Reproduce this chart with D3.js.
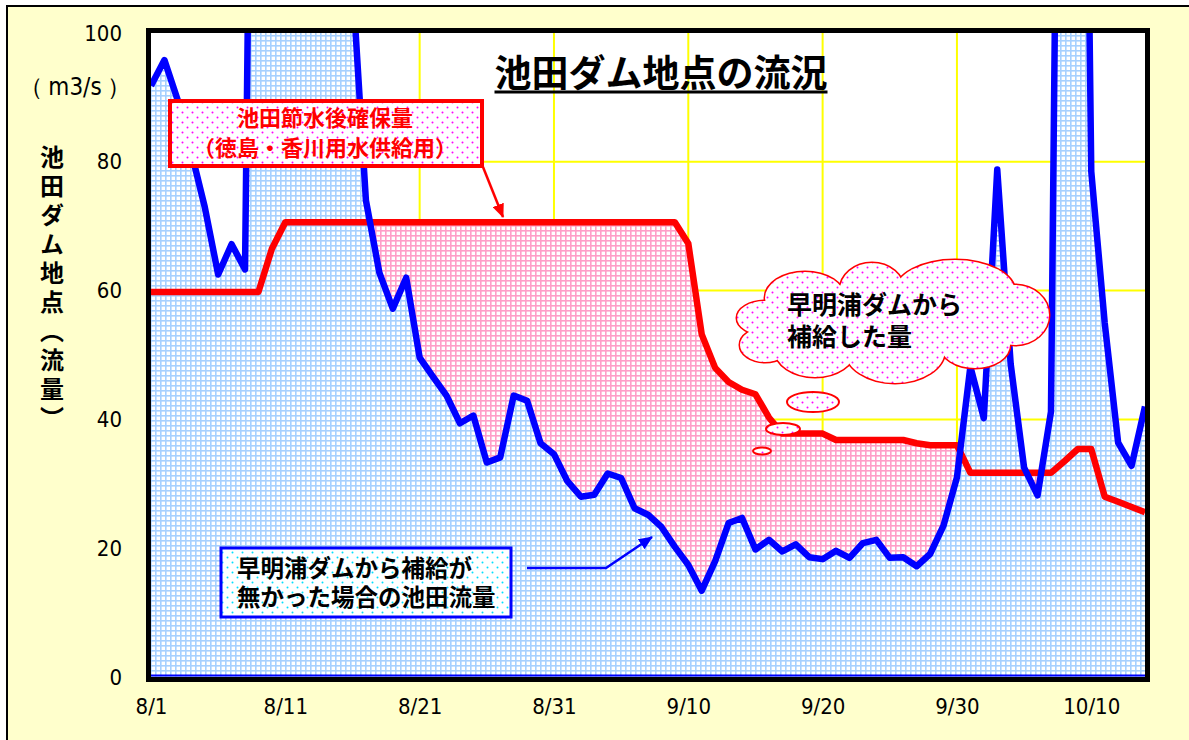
<!DOCTYPE html>
<html lang="ja">
<head>
<meta charset="utf-8" />
<title>池田ダム地点の流況</title>
<style>
  body { margin: 0; background: #fff; }
  svg { display: block; }
  .jp { font-family: 'Noto Sans CJK JP', sans-serif; font-weight: 700; }
  .num text, text.num { font-family: 'Liberation Sans Narrow', 'DejaVu Sans Condensed', sans-serif; font-size: 22px; fill: #000; }
</style>
</head>
<body>
<svg id="chart" width="1189" height="740"></svg>
<script src="https://d3js.org/d3.v7.min.js"></script>
<script>
// ---- data (one value per day, 8/1 .. 10/14) ----
// flow at Ikeda if Sameura dam had not supplied (m3/s); values > 100 run off the chart
const flowNoSupply = [
  91.8, 95.8, 89.5, 81.5, 73, 62.5, 67.2, 63.3, 250, 250,
  250, 250, 250, 250, 250, 108, 74, 62.8, 57.2, 62,
  49.6, 46.6, 43.7, 39.4, 40.6, 33.3, 34.1, 43.7, 42.9, 36.3,
  34.6, 30.4, 28.0, 28.3, 31.6, 30.9, 26.2, 25.2, 23.3, 20.2,
  17.4, 13.4, 18, 23.9, 24.7, 19.8, 21.3, 19.5, 20.6, 18.6,
  18.3, 19.6, 18.5, 20.8, 21.3, 18.5, 18.6, 17.2, 19.1, 23.5,
  31, 48.2, 40.2, 78.8, 48.6, 32.5, 28.2, 41.2, 250, 250,
  78.5, 55, 36.4, 32.8, 42
];
// flow secured at Ikeda after water saving (m3/s)
const securedFlow = [
  59.8, 59.8, 59.8, 59.8, 59.8, 59.8, 59.8, 59.8, 59.8, 66.5,
  70.6, 70.6, 70.6, 70.6, 70.6, 70.6, 70.6, 70.6, 70.6, 70.6,
  70.6, 70.6, 70.6, 70.6, 70.6, 70.6, 70.6, 70.6, 70.6, 70.6,
  70.6, 70.6, 70.6, 70.6, 70.6, 70.6, 70.6, 70.6, 70.6, 70.6,
  67.3, 53.2, 48, 45.8, 44.6, 43.9, 40.3, 37.8, 37.8, 37.8,
  37.8, 36.8, 36.8, 36.8, 36.8, 36.8, 36.8, 36.3, 36.0, 36.0,
  36.0, 31.7, 31.7, 31.7, 31.7, 31.7, 31.7, 31.7, 33.5, 35.4,
  35.4, 28.0, 27.2, 26.4, 25.6
];
const xTickDays = [0, 10, 20, 30, 40, 50, 60, 70];
const xTickLabels = ["8/1", "8/11", "8/21", "8/31", "9/10", "9/20", "9/30", "10/10"];
const yTicks = [0, 20, 40, 60, 80, 100];
const yGrid = [20, 40, 60, 80];

// ---- layout ----
const plot = { left: 151, right: 1145, top: 33, bottom: 677 };
const svg = d3.select("#chart");
const defs = svg.append("defs");

const x = d3.scaleLinear().domain([0, flowNoSupply.length - 1]).range([plot.left, plot.right]);
const y = d3.scaleLinear().domain([0, 100]).range([plot.bottom, plot.top]);

// patterns
function gridPattern(id, color) {
  const p = defs.append("pattern").attr("id", id)
    .attr("patternUnits", "userSpaceOnUse").attr("width", 5).attr("height", 5);
  p.append("rect").attr("width", 5).attr("height", 5).attr("fill", "#fff");
  p.append("rect").attr("width", 5).attr("height", 1.6).attr("fill", color);
  p.append("rect").attr("width", 1.6).attr("height", 5).attr("fill", color);
}
function dotPattern(id, color) {
  const p = defs.append("pattern").attr("id", id)
    .attr("patternUnits", "userSpaceOnUse").attr("width", 10).attr("height", 10);
  p.append("rect").attr("width", 10).attr("height", 10).attr("fill", "#fff");
  p.append("circle").attr("cx", 2.5).attr("cy", 2.5).attr("r", 1).attr("fill", color);
  p.append("circle").attr("cx", 7.5).attr("cy", 7.5).attr("r", 1).attr("fill", color);
}
gridPattern("gridBlue", "#a6d0ff");
gridPattern("gridPink", "#ff9ec8");
dotPattern("dotsMagenta", "#ff00ff");
dotPattern("dotsCyan", "#00e0ff");

defs.append("clipPath").attr("id", "plotClip")
  .append("rect")
  .attr("x", plot.left).attr("y", plot.top)
  .attr("width", plot.right - plot.left).attr("height", plot.bottom - plot.top);

function arrowMarker(id, color) {
  defs.append("marker").attr("id", id)
    .attr("markerUnits", "userSpaceOnUse")
    .attr("markerWidth", 14).attr("markerHeight", 12)
    .attr("refX", 13).attr("refY", 6).attr("orient", "auto")
    .append("path").attr("d", "M0,0 L14,6 L0,12 Z").attr("fill", color);
}
arrowMarker("arrowRed", "#ff0000");
arrowMarker("arrowBlue", "#0000ff");

// ---- backgrounds ----
svg.append("rect").attr("x", 7).attr("y", 6).attr("width", 1200).attr("height", 760)
  .attr("fill", "#ffffcc").attr("stroke", "#000").attr("stroke-width", 2);
svg.append("rect")
  .attr("x", plot.left).attr("y", plot.top)
  .attr("width", plot.right - plot.left).attr("height", plot.bottom - plot.top)
  .attr("fill", "#fff");

// yellow grid
svg.append("g").selectAll("line.h").data(yGrid).join("line")
  .attr("x1", plot.left).attr("x2", plot.right)
  .attr("y1", d => y(d)).attr("y2", d => y(d))
  .attr("stroke", "#ffff00").attr("stroke-width", 2);
svg.append("g").selectAll("line.v").data(xTickDays.slice(1)).join("line")
  .attr("x1", d => x(d)).attr("x2", d => x(d))
  .attr("y1", plot.top).attr("y2", plot.bottom)
  .attr("stroke", "#ffff00").attr("stroke-width", 2);

// ---- areas and lines ----
const area = d3.area().x((d, i) => x(i)).y0(y(0)).y1(d => y(d));
const line = d3.line().x((d, i) => x(i)).y(d => y(d));
const g = svg.append("g").attr("clip-path", "url(#plotClip)");

g.append("path").datum(securedFlow).attr("d", area).attr("fill", "url(#gridPink)");
g.append("path").datum(flowNoSupply).attr("d", area).attr("fill", "url(#gridBlue)");
g.append("line")
  .attr("x1", plot.left).attr("x2", plot.right)
  .attr("y1", y(0) - 1.5).attr("y2", y(0) - 1.5)
  .attr("stroke", "#0000ff").attr("stroke-width", 2);
g.append("path").datum(securedFlow).attr("d", line)
  .attr("fill", "none").attr("stroke", "#ff0000").attr("stroke-width", 6.5)
  .attr("stroke-linejoin", "round");
g.append("path").datum(flowNoSupply).attr("d", line)
  .attr("fill", "none").attr("stroke", "#0000ff").attr("stroke-width", 6.5)
  .attr("stroke-linejoin", "round");

// plot border
svg.append("rect")
  .attr("x", plot.left - 2.5).attr("y", plot.top - 2.5)
  .attr("width", plot.right - plot.left + 5).attr("height", plot.bottom - plot.top + 5)
  .attr("fill", "none").attr("stroke", "#000").attr("stroke-width", 5);

// ---- axes ----
const yAxis = svg.append("g").attr("class", "num")
  .attr("transform", `translate(${plot.left},0)`)
  .call(d3.axisLeft(y).tickValues(yTicks).tickSize(0).tickPadding(29).tickFormat(d3.format("d")));
yAxis.select(".domain").remove();
yAxis.selectAll("text").attr("fill", "#000");

const xAxis = svg.append("g").attr("class", "num")
  .attr("transform", `translate(0,${plot.bottom})`)
  .call(d3.axisBottom(x).tickValues(xTickDays).tickSize(0).tickPadding(21)
    .tickFormat((d, i) => xTickLabels[i]));
xAxis.select(".domain").remove();
xAxis.selectAll("text").attr("fill", "#000");

// y axis titles
const unit = svg.append("text").attr("class", "num")
  .attr("x", 75).attr("y", 95).attr("text-anchor", "middle").style("font-size", "24px");
unit.append("tspan").text("（");
unit.append("tspan").attr("dx", 5).text("m3/s");
unit.append("tspan").attr("dx", 5).text("）");

svg.append("text").attr("class", "jp")
  .attr("x", 52).attr("y", 145)
  .attr("font-size", 24)
  .style("writing-mode", "vertical-rl")
  .style("letter-spacing", "5px")
  .text("池田ダム地点（流量）");

// chart title
const title = svg.append("text").attr("class", "jp")
  .attr("x", 661).attr("y", 87).attr("text-anchor", "middle")
  .attr("font-size", 37).attr("font-weight", 900).attr("fill", "#000")
  .text("池田ダム地点の流況");
const tb = title.node().getBBox();
svg.append("rect").attr("x", tb.x).attr("y", 90.5).attr("width", tb.width).attr("height", 3)
  .attr("fill", "#000");

// two-line label helper
function twoLines(xPos, y1, gap, size, color, anchor, lines) {
  const t = svg.append("text").attr("class", "jp")
    .attr("font-size", size).attr("fill", color).attr("text-anchor", anchor);
  lines.forEach((s, i) => {
    t.append("tspan").attr("x", xPos).attr("y", y1 + i * gap).text(s);
  });
  return t;
}

// ---- annotation: secured flow box ----
svg.append("line")
  .attr("x1", 483).attr("y1", 167).attr("x2", 503).attr("y2", 217)
  .attr("stroke", "#ff0000").attr("stroke-width", 2.5)
  .attr("marker-end", "url(#arrowRed)");
svg.append("rect").attr("x", 170).attr("y", 101).attr("width", 312).attr("height", 65)
  .attr("fill", "url(#dotsMagenta)").attr("stroke", "#ff0000").attr("stroke-width", 4);
twoLines(325, 126, 30, 22, "#ff0000", "middle", ["池田節水後確保量", "（徳島・香川用水供給用）"]);

// ---- annotation: no-supply flow box ----
svg.append("polyline")
  .attr("points", "527,568 606,568 652,537")
  .attr("fill", "none").attr("stroke", "#0000ff").attr("stroke-width", 2.5)
  .attr("marker-end", "url(#arrowBlue)");
svg.append("rect").attr("x", 221).attr("y", 548).attr("width", 290).attr("height", 69)
  .attr("fill", "url(#dotsCyan)").attr("stroke", "#0000ff").attr("stroke-width", 3);
twoLines(237, 577, 29, 23.5, "#000", "start", ["早明浦ダムから補給が", "無かった場合の池田流量"]);

// ---- annotation: cloud ----
const lobes = [
  [765, 318, 28, 17], [765, 345, 25, 17], [805, 298, 40, 26], [872, 290, 32, 27],
  [955, 292, 60, 32], [1015, 315, 34, 30], [975, 345, 35, 23], [895, 350, 50, 33],
  [815, 350, 40, 27]
];
const cloud = svg.append("g");
cloud.selectAll("ellipse.o").data(lobes).join("ellipse")
  .attr("cx", d => d[0]).attr("cy", d => d[1]).attr("rx", d => d[2]).attr("ry", d => d[3])
  .attr("fill", "#fff").attr("stroke", "#ff0000").attr("stroke-width", 3);
cloud.selectAll("ellipse.i").data(lobes.concat([[890, 320, 120, 38]])).join("ellipse")
  .attr("cx", d => d[0]).attr("cy", d => d[1]).attr("rx", d => d[2]).attr("ry", d => d[3])
  .attr("fill", "url(#dotsMagenta)");
const bubbles = [[813, 402, 26, 10], [783, 429, 17, 6], [762, 451, 9, 3.5]];
svg.append("g").selectAll("ellipse").data(bubbles).join("ellipse")
  .attr("cx", d => d[0]).attr("cy", d => d[1]).attr("rx", d => d[2]).attr("ry", d => d[3])
  .attr("fill", "url(#dotsMagenta)").attr("stroke", "#ff0000").attr("stroke-width", 2);
twoLines(787, 314, 32, 25, "#000", "start", ["早明浦ダムから", "補給した量"]);
</script>
</body>
</html>
